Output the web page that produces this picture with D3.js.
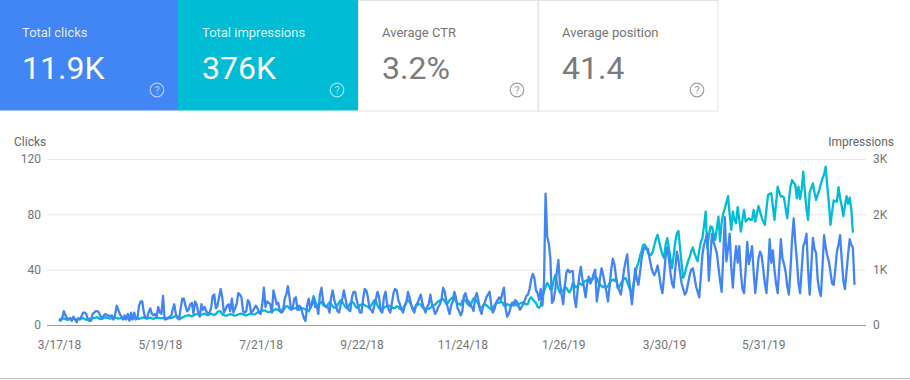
<!DOCTYPE html>
<html>
<head>
<meta charset="utf-8">
<script src="https://cdn.jsdelivr.net/npm/d3@7"></script>
<style>
  html, body { margin: 0; padding: 0; background: #fff; }
  svg { display: block; font-family: Roboto, sans-serif; }
  .domain { display: none; }
</style>
</head>
<body>
<svg id="chart"></svg>
<script>
// Summary cards
const cardTitles = ['Total clicks', 'Total impressions', 'Average CTR', 'Average position'];
const cardValues = ['11.9K', '376K', '3.2%', '41.4'];

const startDate = new Date(2018, 2, 17);
const dateTicks = ['3/17/18', '5/19/18', '7/21/18', '9/22/18', '11/24/18', '1/26/19', '3/30/19', '5/31/19'];
const clickTicks = [0, 40, 80, 120];
const clickTickLabels = ['0', '40', '80', '120'];
const impressionTickLabels = ['0', '1K', '2K', '3K'];
const impressionTicks = [0, 1000, 2000, 3000];

// Daily values, one row per week
const clicks = [
  4,3,5,10,7,5,4, 5,3,6,4,2,5,4, 6,9,9,8,4,3,3, 8,9,10,10,9,6,5,
  7,8,7,7,6,7,4, 7,14,11,8,6,4,7, 4,8,3,9,4,9,4, 5,14,17,17,9,5,5,
  9,12,8,7,8,6,13, 9,8,21,4,4,5,6, 6,11,15,8,5,4,12, 19,19,14,10,11,15,16,
  8,17,15,9,6,15,11, 13,10,8,9,12,21,22, 12,14,20,26,20,9,11, 14,15,10,19,9,12,15,
  23,22,20,10,9,10,18, 16,9,10,12,14,12,9, 8,15,27,13,17,16,15, 9,25,20,15,16,10,9,
  10,19,22,28,20,11,12, 19,20,11,14,13,9,5, 3,14,19,12,15,19,13, 14,8,22,27,17,14,13,
  13,9,20,25,18,14,10, 9,15,19,25,19,13,11, 10,20,24,24,18,13,9, 9,19,26,25,20,12,11,
  9,14,19,24,20,10,9, 20,24,15,11,9,16,23, 26,25,18,15,11,9,14, 16,24,20,15,11,9,14,
  16,19,22,16,12,9,13, 15,22,15,12,8,10,13, 15,19,27,24,17,12,8, 14,17,24,20,12,10,7,
  10,21,23,18,17,14,13, 10,20,23,18,11,8,14, 16,20,22,24,15,9,11, 16,18,20,18,23,27,12,
  6,8,12,16,14,18,17, 14,11,13,15,18,21,22, 26,33,37,34,25,23,18, 26,14,30,95,64,59,48,
  16,18,25,38,47,30,22, 15,28,38,40,38,39,39, 20,13,25,35,42,33,27, 20,30,35,30,33,37,40,
  17,25,34,41,36,30,24, 17,28,40,48,44,35,28, 25,22,30,40,46,51,35, 24,15,28,41,33,29,38,
  48,54,56,55,55,48,42, 38,36,39,43,36,28,23, 35,50,56,48,38,30,27, 40,53,47,38,30,26,22,
  24,30,36,40,41,35,28, 24,20,35,51,58,62,66, 32,50,66,60,56,52,42, 32,24,50,78,46,55,66,
  42,27,45,57,45,57,38, 26,23,40,60,44,50,57, 38,23,35,48,53,50,40, 30,23,40,62,45,54,40,
  30,23,42,62,48,44,38, 28,22,40,62,77,60,47, 30,23,40,57,60,66,40, 22,42,63,55,52,33,25,
  21,42,65,56,50,46,38, 30,29,40,53,58,65,48, 32,26,38,51,62,58,56,29
];

const impressions = [
  110,100,115,120,105,95,100, 115,110,120,105,95,110,100, 120,125,110,95,100,115,120, 120,130,135,140,120,105,110,
  130,140,135,125,115,120,125, 135,130,115,120,130,125,110, 120,130,125,105,115,120,130, 125,110,120,130,140,125,115,
  130,135,120,110,125,135,130, 125,120,130,135,125,120,130, 125,135,150,160,145,125,115, 135,150,165,170,180,165,155,
  170,185,200,190,170,185,195, 205,190,175,195,205,190,180, 200,235,250,245,190,180,170, 170,185,195,190,175,170,180,
  190,200,205,195,180,170,185, 200,205,195,190,205,225,240, 245,255,265,260,240,230,245, 250,260,280,285,265,250,270,
  285,300,340,335,300,285,295, 300,305,290,275,290,300,295, 280,270,245,310,400,520,440, 370,330,400,420,360,340,330,
  370,410,380,340,310,320,360, 410,450,420,370,320,300,340, 390,420,400,350,310,320,360, 370,375,360,340,330,310,350,
  400,450,430,350,300,280,300, 310,330,340,350,340,320,300, 310,340,330,290,280,300,350, 420,450,420,360,300,300,340,
  360,380,370,320,300,290,310, 290,310,340,350,370,400,430, 440,460,470,430,380,400,450, 480,500,480,430,390,380,360,
  440,460,440,390,360,340,420, 480,470,430,380,310,320,340, 370,360,330,310,280,300,350, 390,410,400,420,410,350,340,
  380,360,350,390,410,380,350, 370,390,400,410,390,370,380, 470,500,460,430,400,330,310, 350,510,600,690,760,720,640,
  660,800,900,780,650,580,600, 620,690,670,620,590,650,760, 720,680,700,760,740,720,780, 800,810,790,830,810,850,880,
  850,770,740,700,680,720,680, 700,760,800,820,800,850,670, 690,750,800,830,850,780,700, 620,590,760,900,1050,1120,1250,
  1340,1450,1450,1400,1300,1270,1270, 1330,1450,1560,1630,1500,1380,1270, 1210,1450,1570,1400,1200,1030,1250, 1500,1650,1700,1400,1100,850,930,
  1050,1150,1230,1330,1400,1300,1220, 1150,1350,1500,1570,1800,2050,1390, 1600,1780,1770,1650,1540,1750,1960, 1510,1850,2020,2110,2220,2330,2000,
  1720,2050,1900,1840,2130,1900,1690, 1900,2080,1870,1900,1930,1900,1900, 2080,1870,2000,2150,2050,1950,1870, 1810,2100,2350,2370,2380,2150,1900,
  2200,2500,2400,2320,2330,2300,2100, 1930,2250,2500,2620,2570,2530,2290, 2500,2280,2450,2770,2400,2100,1900, 2400,2480,2560,2400,2260,2350,2440,
  2550,2650,2720,2860,2500,2200,1810, 2050,2250,2240,2230,2490,2300,2150, 1970,2150,2330,2190,2300,2100,1670
];

const width = 910;
const height = 380;
const svg = d3.select('#chart').attr('width', width).attr('height', height);

// Cards across the top
const cardX = d3.scaleBand().domain(cardTitles).range([-2, 718]);
const cardFill = ['#4285f4', '#00bcd4', '#fff', '#fff'];

const cards = svg.selectAll('g.card')
  .data(cardTitles)
  .enter()
  .append('g')
  .attr('class', 'card')
  .attr('transform', (d) => `translate(${cardX(d)},0)`);

cards.append('rect')
  .attr('x', (d, i) => (i > 1 ? 0.5 : 0))
  .attr('y', (d, i) => (i > 1 ? 0.5 : 0))
  .attr('width', (d, i) => (i > 1 ? cardX.bandwidth() - 0.5 : cardX.bandwidth()))
  .attr('height', 110.5)
  .attr('fill', (d, i) => cardFill[i])
  .attr('stroke', (d, i) => (i > 1 ? '#e3e3e3' : 'none'));

cards.append('text')
  .text((d) => d)
  .attr('x', 24)
  .attr('y', 37)
  .style('font-size', '13px')
  .style('fill', (d, i) => (i > 1 ? '#757575' : 'rgba(255,255,255,0.85)'));

cards.append('text')
  .text((d, i) => cardValues[i])
  .attr('x', 24)
  .attr('y', 78.5)
  .style('font-size', '32px')
  .style('fill', (d, i) => (i > 1 ? '#7b7b7b' : '#fff'));

// Help icons
cards.append('circle')
  .attr('cx', 159)
  .attr('cy', 90)
  .attr('r', 6.8)
  .attr('fill', 'none')
  .attr('stroke-width', 1.2)
  .attr('stroke', (d, i) => (i > 1 ? '#9e9e9e' : 'rgba(255,255,255,0.6)'));

cards.append('text')
  .text('?')
  .attr('x', 159)
  .attr('y', 94)
  .attr('text-anchor', 'middle')
  .style('font-size', '11px')
  .style('fill', (d, i) => (i > 1 ? '#9e9e9e' : 'rgba(255,255,255,0.6)'));

// Scales
const parseTick = d3.timeParse('%-m/%-d/%y');
const dates = clicks.map((d, i) => d3.timeDay.offset(startDate, i));
const x = d3.scaleTime()
  .domain([startDate, dates[dates.length - 1]])
  .range([59, 854.5]);
const yClicks = d3.scaleLinear().domain([0, 120]).range([325, 159]);
const yImpressions = d3.scaleLinear().domain([0, 3000]).range([325, 159]);

// Left axis draws the grid lines too
const leftAxis = svg.append('g')
  .attr('transform', 'translate(47,0)')
  .call(d3.axisLeft(yClicks)
    .tickValues(clickTicks)
    .tickFormat((d, i) => clickTickLabels[i])
    .tickSize(-819)
    .tickPadding(6));
leftAxis.selectAll('line').attr('stroke', (d) => (d === 0 ? '#9e9e9e' : '#e8e8e8'));

const rightAxis = svg.append('g')
  .attr('transform', 'translate(866,0)')
  .call(d3.axisRight(yImpressions)
    .tickValues(impressionTicks)
    .tickFormat((d, i) => impressionTickLabels[i])
    .tickSize(0)
    .tickPadding(7));

const bottomAxis = svg.append('g')
  .attr('transform', 'translate(0,325)')
  .call(d3.axisBottom(x)
    .tickValues(dateTicks.map(parseTick))
    .tickFormat(d3.timeFormat('%-m/%-d/%y'))
    .tickSize(0)
    .tickPadding(15));

svg.selectAll('.tick text')
  .style('font-family', 'Roboto, sans-serif')
  .style('font-size', '12px')
  .style('fill', '#757575');

svg.append('text')
  .text('Clicks')
  .attr('x', 14)
  .attr('y', 146)
  .style('font-size', '12px')
  .style('fill', '#666');

svg.append('text')
  .text('Impressions')
  .attr('x', 894)
  .attr('y', 146)
  .attr('text-anchor', 'end')
  .style('font-size', '12px')
  .style('fill', '#666');

// Lines, clicks go on top
const impressionLine = d3.line()
  .x((d, i) => x(dates[i]))
  .y((d) => yImpressions(d));
const clickLine = d3.line()
  .x((d, i) => x(dates[i]))
  .y((d) => yClicks(d));

svg.append('path')
  .datum(impressions)
  .attr('d', impressionLine)
  .attr('fill', 'none')
  .attr('stroke', '#00bcd4')
  .attr('stroke-linejoin', 'round')
  .attr('stroke-width', 2.3);

svg.append('path')
  .datum(clicks)
  .attr('d', clickLine)
  .attr('fill', 'none')
  .attr('stroke', '#4285f4')
  .attr('stroke-linejoin', 'round')
  .attr('stroke-width', 2.3);

// Bottom edge of the panel
svg.append('line')
  .attr('x1', 0)
  .attr('x2', width)
  .attr('y1', 378.5)
  .attr('y2', 378.5)
  .attr('stroke', '#bdbdbd');
</script>
</body>
</html>
